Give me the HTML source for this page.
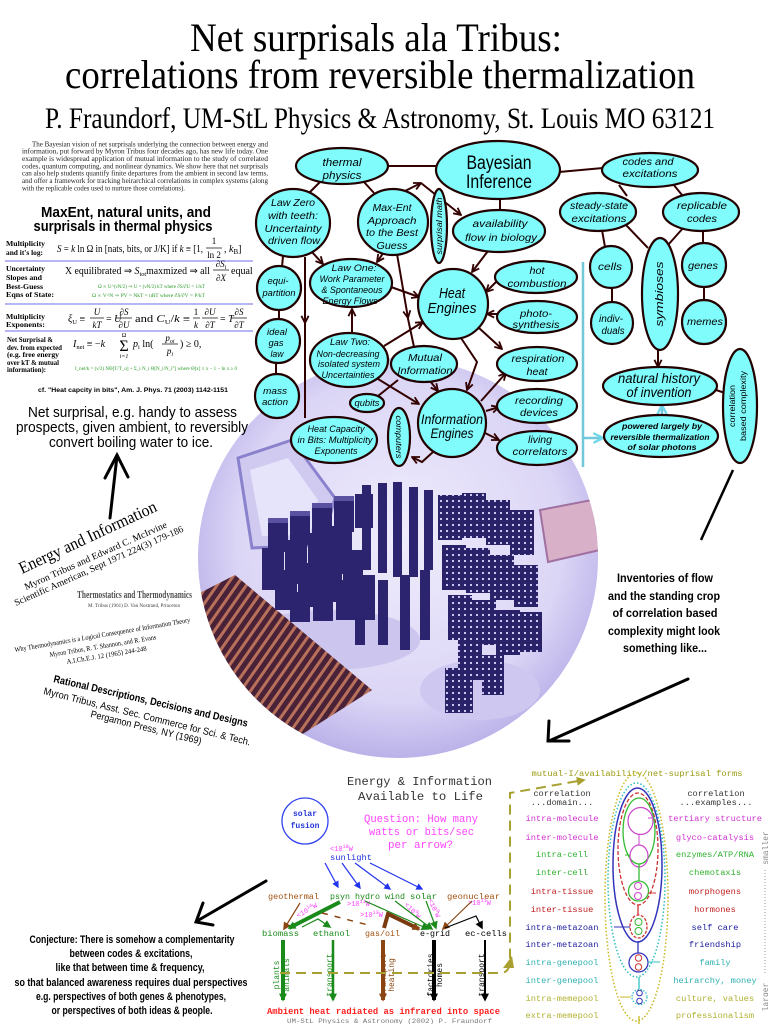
<!DOCTYPE html>
<html><head><meta charset="utf-8">
<style>
html,body{margin:0;padding:0;background:#fff;}
svg{display:block;}
.n{font-family:"Liberation Sans",sans-serif;font-style:italic;text-anchor:middle;fill:#000;}
.e{fill:#80fcfc;stroke:#200;stroke-width:2.2;}
.c{stroke:#300;stroke-width:2;fill:none;}
.m{font-family:"Liberation Mono",monospace;}
.s{font-family:"Liberation Serif",serif;}
.a{font-family:"Liberation Sans",sans-serif;}
.lb{font-family:"Liberation Serif",serif;font-weight:bold;font-size:7.5px;fill:#000;}
.fr{stroke:#000;stroke-width:0.7;}
</style></head><body>
<svg width="768" height="1024" viewBox="0 0 768 1024" xmlns="http://www.w3.org/2000/svg">
<defs>
<clipPath id="cc"><circle cx="398" cy="558" r="200"/></clipPath>
<radialGradient id="bg" cx="50%" cy="45%" r="55%"><stop offset="0" stop-color="#efecfc"/><stop offset="0.7" stop-color="#dcd6f6"/><stop offset="1" stop-color="#b4aae6"/></radialGradient>
<pattern id="dots" width="6" height="6" patternUnits="userSpaceOnUse"><rect width="6" height="6" fill="#2a2268"/><circle cx="3" cy="3" r="1.1" fill="#dcd8ff"/></pattern>
<pattern id="st" width="8" height="8" patternUnits="userSpaceOnUse" patternTransform="rotate(35)"><rect width="8" height="8" fill="#4a2238"/><rect width="3" height="8" fill="#b8705a"/></pattern>
<marker id="ar" viewBox="0 0 10 10" refX="9" refY="5" markerWidth="9" markerHeight="9" orient="auto" markerUnits="userSpaceOnUse"><path d="M1,1L9,5L1,9" fill="none" stroke="#300" stroke-width="2"/></marker>
<marker id="ac" viewBox="0 0 10 10" refX="9" refY="5" markerWidth="12" markerHeight="12" orient="auto" markerUnits="userSpaceOnUse"><path d="M1,1L9,5L1,9" fill="none" stroke="#70d8e8" stroke-width="2"/></marker>
<marker id="fg" viewBox="0 0 10 10" refX="8" refY="5" markerWidth="8" markerHeight="8" orient="auto" markerUnits="userSpaceOnUse"><path d="M0,0L10,5L0,10z" fill="#1a8a1a"/></marker>
<marker id="fb" viewBox="0 0 10 10" refX="8" refY="5" markerWidth="8" markerHeight="8" orient="auto" markerUnits="userSpaceOnUse"><path d="M0,0L10,5L0,10z" fill="#8b4513"/></marker>
<marker id="fk" viewBox="0 0 10 10" refX="8" refY="5" markerWidth="8" markerHeight="8" orient="auto" markerUnits="userSpaceOnUse"><path d="M0,0L10,5L0,10z" fill="#000"/></marker>
<marker id="fl" viewBox="0 0 10 10" refX="8" refY="5" markerWidth="7" markerHeight="7" orient="auto" markerUnits="userSpaceOnUse"><path d="M0,0L10,5L0,10z" fill="#2233ee"/></marker>
<marker id="fo" viewBox="0 0 10 10" refX="8" refY="5" markerWidth="9" markerHeight="9" orient="auto" markerUnits="userSpaceOnUse"><path d="M0,0L10,5L0,10z" fill="#a8a030"/></marker>
</defs>

<!-- Title -->
<text class="s" transform="translate(190,51) scale(1,1.1)" font-size="37" textLength="372" lengthAdjust="spacingAndGlyphs">Net surprisals ala Tribus:</text>
<text class="s" transform="translate(65,88) scale(1,1.1)" font-size="37" textLength="630" lengthAdjust="spacingAndGlyphs">correlations from reversible thermalization</text>
<text class="s" transform="translate(45,128) scale(1,1.2)" font-size="25" textLength="670" lengthAdjust="spacingAndGlyphs">P. Fraundorf, UM-StL Physics &amp; Astronomy, St. Louis MO 63121</text>

<!-- Photo circle -->
<g clip-path="url(#cc)">
<rect x="190" y="350" width="420" height="420" fill="url(#bg)"/>
<polygon points="238,458 292,440 335,498 322,545 252,548" fill="#d0caf0" stroke="#8a82cc" stroke-width="3"/>
<polygon points="250,470 288,458 318,500 310,535 262,536" fill="#e6e4fa"/>
<ellipse cx="330" cy="640" rx="90" ry="30" fill="#ccc6ee"/>
<ellipse cx="480" cy="690" rx="60" ry="30" fill="#cec8f0"/>
<polygon points="190,598 235,575 372,690 290,742 190,712" fill="url(#st)"/>
<polygon points="540,510 592,500 600,550 548,562" fill="#d8b0c8" stroke="#a070a0" stroke-width="2"/>
<g fill="#2d2470">
<rect x="268" y="522" width="20" height="30"/><rect x="290" y="515" width="20" height="30"/><rect x="312" y="507" width="20" height="30"/><rect x="334" y="500" width="20" height="32"/><rect x="355" y="494" width="18" height="34"/>
<rect x="262" y="548" width="22" height="42"/><rect x="285" y="540" width="22" height="44"/><rect x="308" y="533" width="22" height="46"/><rect x="330" y="526" width="22" height="48"/>
<rect x="275" y="570" width="22" height="40"/><rect x="298" y="563" width="22" height="44"/><rect x="320" y="556" width="22" height="46"/><rect x="343" y="550" width="20" height="50"/>
<rect x="290" y="592" width="20" height="30"/><rect x="313" y="585" width="20" height="36"/><rect x="336" y="580" width="20" height="40"/><rect x="357" y="575" width="18" height="45"/>
<rect x="362" y="485" width="9" height="85"/><rect x="378" y="483" width="9" height="90"/><rect x="393" y="482" width="9" height="95"/><rect x="409" y="487" width="9" height="90"/><rect x="424" y="490" width="9" height="80"/>
<rect x="378" y="580" width="10" height="65"/><rect x="400" y="575" width="10" height="75"/><rect x="420" y="570" width="10" height="70"/><rect x="355" y="600" width="10" height="45"/>
</g>
<g fill="#5a52a0">
<rect x="268" y="518" width="20" height="5"/><rect x="290" y="511" width="20" height="5"/><rect x="312" y="503" width="20" height="5"/><rect x="334" y="496" width="20" height="5"/>
</g>
<g fill="url(#dots)">
<rect x="438" y="495" width="24" height="45"/><rect x="462" y="493" width="24" height="45"/><rect x="486" y="500" width="24" height="45"/><rect x="510" y="510" width="24" height="45"/>
<rect x="442" y="545" width="24" height="45"/><rect x="466" y="548" width="24" height="45"/><rect x="490" y="555" width="24" height="45"/><rect x="514" y="565" width="24" height="42"/>
<rect x="448" y="595" width="24" height="45"/><rect x="472" y="600" width="24" height="45"/><rect x="496" y="610" width="24" height="45"/><rect x="520" y="612" width="22" height="40"/>
<rect x="458" y="640" width="24" height="40"/><rect x="482" y="655" width="22" height="40"/><rect x="445" y="668" width="28" height="45"/>
</g>
</g>

<!-- Abstract -->
<g class="s" font-size="7" fill="#222">
<text x="32" y="146.3" textLength="236" lengthAdjust="spacingAndGlyphs">The Bayesian vision of net surprisals underlying the connection between energy and</text>
<text x="22" y="153.7" textLength="246" lengthAdjust="spacingAndGlyphs">information, put forward by Myron Tribus four decades ago, has new life today. One</text>
<text x="22" y="161" textLength="246" lengthAdjust="spacingAndGlyphs">example is widespread application of mutual information to the study of correlated</text>
<text x="22" y="168.3" textLength="246" lengthAdjust="spacingAndGlyphs">codes, quantum computing, and nonlinear dynamics. We show here that net surprisals</text>
<text x="22" y="175.7" textLength="246" lengthAdjust="spacingAndGlyphs">can also help students quantify finite departures from the ambient in second law terms,</text>
<text x="22" y="183" textLength="246" lengthAdjust="spacingAndGlyphs">and offer a framework for tracking heirarchical correlations in complex systems (along</text>
<text x="22" y="190.3" textLength="163" lengthAdjust="spacingAndGlyphs">with the replicable codes used to nurture those correlations).</text>
</g>

<!-- MaxEnt section -->
<g class="a" font-weight="bold" font-size="14.5" text-anchor="middle">
<text x="126" y="217" textLength="170" lengthAdjust="spacingAndGlyphs">MaxEnt, natural units, and</text>
<text x="123" y="231" textLength="179" lengthAdjust="spacingAndGlyphs">surprisals in thermal physics</text>
</g>
<g class="lb">
<text x="6" y="246" textLength="39" lengthAdjust="spacingAndGlyphs">Multiplicity</text>
<text x="6" y="255" textLength="37" lengthAdjust="spacingAndGlyphs">and it's log:</text>
<text x="6" y="271" textLength="39" lengthAdjust="spacingAndGlyphs">Uncertainty</text>
<text x="6" y="280" textLength="36" lengthAdjust="spacingAndGlyphs">Slopes and</text>
<text x="6" y="289" textLength="37" lengthAdjust="spacingAndGlyphs">Best-Guess</text>
<text x="6" y="297" textLength="48" lengthAdjust="spacingAndGlyphs">Eqns of State:</text>
<text x="6" y="319" textLength="39" lengthAdjust="spacingAndGlyphs">Multiplicity</text>
<text x="6" y="327" textLength="39" lengthAdjust="spacingAndGlyphs">Exponents:</text>
</g>
<g class="lb" font-size="6.5">
<text x="7" y="342" textLength="46" lengthAdjust="spacingAndGlyphs">Net Surprisal &amp;</text>
<text x="7" y="350" textLength="55" lengthAdjust="spacingAndGlyphs">dev. from expected</text>
<text x="7" y="357" textLength="52" lengthAdjust="spacingAndGlyphs">(e.g. free energy</text>
<text x="7" y="365" textLength="52" lengthAdjust="spacingAndGlyphs">over kT &amp; mutual</text>
<text x="7" y="372" textLength="39" lengthAdjust="spacingAndGlyphs">information):</text>
</g>
<g stroke="#8a8aee" stroke-width="1.3"><line x1="5" y1="261" x2="253" y2="261"/><line x1="5" y1="304" x2="253" y2="304"/><line x1="5" y1="331" x2="253" y2="331"/></g>

<g class="s" fill="#000">
<!-- row1 -->
<text x="57" y="252" font-size="10" textLength="146" lengthAdjust="spacingAndGlyphs"><tspan font-style="italic">S</tspan> = <tspan font-style="italic">k</tspan> ln Ω in [nats, bits, or J/K] if <tspan font-style="italic">k</tspan> ≡ [1,</text>
<text x="214" y="244" font-size="9" text-anchor="middle">1</text><line class="fr" x1="206" y1="248" x2="222" y2="248"/><text x="214" y="258" font-size="9" text-anchor="middle">ln 2</text>
<text x="224" y="252" font-size="10">, <tspan font-style="italic">k</tspan><tspan font-size="7" dy="2">B</tspan><tspan dy="-2">]</tspan></text>
<!-- row2 -->
<text x="65" y="274" font-size="10" textLength="145" lengthAdjust="spacingAndGlyphs">X equilibrated ⇒ <tspan font-style="italic">S</tspan><tspan font-size="6.5" dy="2">tot</tspan><tspan dy="-2">maxmized ⇒ all</tspan></text>
<text x="221" y="267" font-size="9" text-anchor="middle" font-style="italic">∂S<tspan font-size="6" dy="2">i</tspan></text><line class="fr" x1="213" y1="270" x2="229" y2="270"/><text x="221" y="281" font-size="9" text-anchor="middle" font-style="italic">∂X</text>
<text x="231" y="274" font-size="10">equal</text>
<text x="98" y="288" font-size="5.2" fill="#2a9a2a" textLength="107" lengthAdjust="spacingAndGlyphs">Ω ∝ U^(νN/2) ⇒ U = (νN/2) kT  where  ∂S/∂U = 1/kT</text>
<text x="92" y="297" font-size="5.2" fill="#2a9a2a" textLength="113" lengthAdjust="spacingAndGlyphs">Ω ∝ V^N ⇒ PV = NkT = nRT  where  ∂S/∂V = P/kT</text>
<!-- row3 -->
<text x="68" y="322" font-size="10"><tspan font-style="italic">ξ</tspan><tspan font-size="6.5" dy="2">U</tspan><tspan dy="-2"> ≡</tspan></text>
<text x="97" y="315" font-size="9" text-anchor="middle" font-style="italic">U</text><line class="fr" x1="90" y1="318" x2="104" y2="318"/><text x="97" y="328" font-size="9" text-anchor="middle" font-style="italic">kT</text>
<text x="106" y="322" font-size="10">= <tspan font-style="italic">U</tspan></text>
<text x="124" y="315" font-size="9" text-anchor="middle" font-style="italic">∂S</text><line class="fr" x1="116" y1="318" x2="132" y2="318"/><text x="124" y="328" font-size="9" text-anchor="middle" font-style="italic">∂U</text>
<text x="135" y="322" font-size="10" textLength="55" lengthAdjust="spacingAndGlyphs">and <tspan font-style="italic">C</tspan><tspan font-size="6.5" dy="2">U</tspan><tspan dy="-2">/</tspan><tspan font-style="italic">k</tspan> ≡</text>
<text x="196" y="315" font-size="9" text-anchor="middle">1</text><line class="fr" x1="193" y1="318" x2="200" y2="318"/><text x="196" y="328" font-size="9" text-anchor="middle" font-style="italic">k</text>
<text x="210" y="315" font-size="9" text-anchor="middle" font-style="italic">∂U</text><line class="fr" x1="202" y1="318" x2="218" y2="318"/><text x="210" y="328" font-size="9" text-anchor="middle" font-style="italic">∂T</text>
<text x="220" y="322" font-size="10">= <tspan font-style="italic">T</tspan></text>
<text x="239" y="315" font-size="9" text-anchor="middle" font-style="italic">∂S</text><line class="fr" x1="231" y1="318" x2="247" y2="318"/><text x="239" y="328" font-size="9" text-anchor="middle" font-style="italic">∂T</text>
<!-- row4 -->
<text x="73" y="347" font-size="10"><tspan font-style="italic">I</tspan><tspan font-size="6.5" dy="2">net</tspan><tspan dy="-2"> ≡ −<tspan font-style="italic">k</tspan></tspan></text>
<text x="124" y="351" font-size="16" text-anchor="middle">Σ</text>
<text x="124" y="337" font-size="6" text-anchor="middle">Ω</text>
<text x="124" y="358" font-size="6" text-anchor="middle" font-style="italic">i=1</text>
<text x="133" y="347" font-size="10"><tspan font-style="italic">p</tspan><tspan font-size="6.5" dy="2">i</tspan><tspan dy="-2"> ln(</tspan></text>
<text x="170" y="341" font-size="9" text-anchor="middle" font-style="italic">p<tspan font-size="6" dy="2">oi</tspan></text><line class="fr" x1="162" y1="344" x2="178" y2="344"/><text x="170" y="354" font-size="9" text-anchor="middle" font-style="italic">p<tspan font-size="6" dy="2">i</tspan></text>
<text x="180" y="347" font-size="10">) ≥ 0,</text>
<text x="75" y="370" font-size="5.2" fill="#2a9a2a" textLength="162" lengthAdjust="spacingAndGlyphs">I_net/k = (ν/2) NΘ[T/T_o] + Σ_i N_i Θ[N_i/N_i°]  where  Θ[x] ≡ x − 1 − ln x ≥ 0</text>
</g>
<text class="a" x="38" y="392" font-size="6.6" font-weight="bold" textLength="190" lengthAdjust="spacingAndGlyphs">cf. "Heat capcity in bits", Am. J. Phys. 71 (2003) 1142-1151</text>
<g class="a" font-size="14.5" fill="#000">
<text x="28" y="417" textLength="209" lengthAdjust="spacingAndGlyphs">Net surprisal, e.g. handy to assess</text>
<text x="16" y="432" textLength="232" lengthAdjust="spacingAndGlyphs">prospects, given ambient, to reversibly</text>
<text x="49" y="447" textLength="164" lengthAdjust="spacingAndGlyphs">convert boiling water to ice.</text>
</g>
<!-- up arrow -->
<g stroke="#000" stroke-width="3" fill="none" stroke-linecap="round"><line x1="117" y1="456" x2="110" y2="518"/><polyline points="105,478 117,455 128,477"/></g>

<!-- References -->
<g class="s" fill="#000">
<text transform="translate(22,574) rotate(-25)" font-size="17" textLength="150" lengthAdjust="spacingAndGlyphs">Energy and Information</text>
<text transform="translate(26,590) rotate(-24)" font-size="9.5" textLength="155" lengthAdjust="spacingAndGlyphs">Myron Tribus and Edward C. McIrvine</text>
<text transform="translate(16,606) rotate(-24)" font-size="9.5" textLength="184" lengthAdjust="spacingAndGlyphs">Scientific American, Sept 1971 224(3) 179-186</text>
<text x="77" y="598" font-size="10" font-weight="bold" fill="#505050" textLength="115" lengthAdjust="spacingAndGlyphs">Thermostatics and Thermodynamics</text>
<text x="88" y="607" font-size="5" fill="#404040" textLength="92" lengthAdjust="spacingAndGlyphs">M. Tribus (1961) D. Van Nostrand, Princeton</text>
<text transform="translate(15,652) rotate(-9.7)" font-size="7" textLength="178" lengthAdjust="spacingAndGlyphs">Why Thermodynamics is a Logical Consequence of Information Theory</text>
<text transform="translate(50,657) rotate(-9.5)" font-size="7" textLength="108" lengthAdjust="spacingAndGlyphs">Myron Tribus, R. T. Shannon, and R. Evans</text>
<text transform="translate(67,664) rotate(-9.5)" font-size="7" textLength="81" lengthAdjust="spacingAndGlyphs">A.I.Ch.E.J. 12 (1965) 244-248</text>
</g>
<g class="a" fill="#000">
<text transform="translate(53,682) rotate(13)" font-size="10.5" font-weight="bold" textLength="199" lengthAdjust="spacingAndGlyphs">Rational Descriptions, Decisions and Designs</text>
<text transform="translate(43,694) rotate(14)" font-size="10" textLength="213" lengthAdjust="spacingAndGlyphs">Myron Tribus, Asst. Sec. Commerce for Sci. &amp; Tech.</text>
<text transform="translate(90,717) rotate(14)" font-size="10" textLength="114" lengthAdjust="spacingAndGlyphs">Pergamon Press, NY (1969)</text>
</g>

<!-- Top-right diagram connectors -->
<g class="c">
<line x1="388" y1="166" x2="437" y2="166"/>
<line x1="320" y1="182" x2="309" y2="193"/>
<line x1="364" y1="182" x2="374" y2="193"/>
<line x1="500" y1="198" x2="500" y2="211"/>
<line x1="559" y1="172" x2="603" y2="168"/>
<line x1="405" y1="191" x2="421" y2="183" marker-end="url(#ar)"/>
<line x1="421" y1="183" x2="461" y2="215" marker-end="url(#ar)"/>
<line x1="488" y1="251" x2="472" y2="272" marker-end="url(#ar)"/>
<line x1="283" y1="256" x2="282" y2="267"/>
<line x1="311" y1="251" x2="323" y2="264" marker-end="url(#ar)"/>
<line x1="305" y1="257" x2="305" y2="323" marker-end="url(#ar)"/>
<line x1="305" y1="320" x2="305" y2="418"/>
<line x1="384" y1="252" x2="377" y2="262" marker-end="url(#ar)"/>
<line x1="397" y1="254" x2="408" y2="318" marker-end="url(#ar)"/>
<line x1="407" y1="314" x2="414" y2="347"/>
<line x1="391" y1="287" x2="419" y2="297" marker-end="url(#ar)"/>
<line x1="279" y1="309" x2="279" y2="320"/>
<line x1="276" y1="362" x2="276" y2="375"/>
<line x1="352" y1="334" x2="352" y2="309" marker-end="url(#ar)"/>
<line x1="384" y1="346" x2="423" y2="322" marker-end="url(#ar)"/>
<line x1="378" y1="379" x2="419" y2="404" marker-end="url(#ar)"/>
<line x1="430" y1="381" x2="438" y2="391" marker-end="url(#ar)"/>
<line x1="378" y1="396" x2="398" y2="380"/>
<polyline points="461,338 477,362 467,390" marker-end="url(#ar)"/>
<line x1="479" y1="328" x2="502" y2="349" marker-end="url(#ar)"/>
<line x1="497" y1="281" x2="486" y2="292" marker-end="url(#ar)"/>
<line x1="498" y1="314" x2="487" y2="314" marker-end="url(#ar)"/>
<line x1="481" y1="401" x2="506" y2="373" marker-end="url(#ar)"/>
<line x1="486" y1="411" x2="499" y2="407" marker-end="url(#ar)"/>
<line x1="485" y1="433" x2="499" y2="440" marker-end="url(#ar)"/>
<polyline points="433,452 422,462 412,457" marker-end="url(#ar)"/>
<line x1="627" y1="196" x2="619" y2="185"/>
<line x1="673" y1="184" x2="682" y2="195"/>
<line x1="602" y1="230" x2="605" y2="247"/>
<line x1="626" y1="225" x2="648" y2="248"/>
<line x1="684" y1="227" x2="668" y2="245"/>
<line x1="703" y1="230" x2="703" y2="244"/>
<line x1="612" y1="288" x2="612" y2="302"/>
<line x1="704" y1="286" x2="704" y2="301"/>
<line x1="658" y1="349" x2="658" y2="367" marker-end="url(#ar)"/>
<line x1="716" y1="390" x2="725" y2="393"/>
</g>
<line x1="583" y1="262" x2="583" y2="467" stroke="#70c8d8" stroke-width="2.5"/>
<line x1="583" y1="438" x2="603" y2="438" stroke="#70c8d8" stroke-width="2.5" marker-end="url(#ac)"/>
<line x1="662" y1="415" x2="662" y2="405" stroke="#70c8d8" stroke-width="2.5" marker-end="url(#ac)"/>
<line x1="733" y1="470" x2="701" y2="540" stroke="#000" stroke-width="2.5"/>

<!-- nodes -->
<g class="e">
<ellipse cx="342" cy="166" rx="46" ry="18"/>
<ellipse cx="498" cy="170" rx="62" ry="29"/>
<ellipse cx="293" cy="223" rx="37" ry="34"/>
<ellipse cx="393" cy="222" rx="35" ry="33"/>
<ellipse cx="439" cy="226" rx="8" ry="37"/>
<ellipse cx="499" cy="231" rx="46" ry="21"/>
<circle cx="279" cy="288" r="22"/>
<ellipse cx="351" cy="283" rx="41" ry="24"/>
<circle cx="453" cy="304" r="35"/>
<ellipse cx="536" cy="277" rx="41" ry="16"/>
<ellipse cx="537" cy="317" rx="40" ry="16"/>
<ellipse cx="537" cy="364" rx="40" ry="17"/>
<ellipse cx="537" cy="406" rx="40" ry="17"/>
<ellipse cx="537" cy="448" rx="40" ry="17"/>
<ellipse cx="424" cy="364" rx="33" ry="18"/>
<ellipse cx="349" cy="360" rx="39" ry="27"/>
<circle cx="452" cy="423" r="34"/>
<ellipse cx="367" cy="403" rx="17" ry="9"/>
<ellipse cx="399" cy="437" rx="11" ry="29"/>
<ellipse cx="334" cy="440" rx="43" ry="23"/>
<circle cx="278" cy="341" r="22"/>
<circle cx="277" cy="396" r="22"/>
<ellipse cx="650" cy="170" rx="48" ry="17"/>
<ellipse cx="598" cy="212" rx="38" ry="19"/>
<ellipse cx="701" cy="212" rx="38" ry="19"/>
<circle cx="611" cy="267" r="21"/>
<circle cx="612" cy="323" r="21"/>
<ellipse cx="660" cy="294" rx="18" ry="56"/>
<circle cx="704" cy="265" r="22"/>
<circle cx="704" cy="322" r="22"/>
<ellipse cx="660" cy="386" rx="57" ry="19"/>
<ellipse cx="661" cy="436" rx="57" ry="21"/>
<ellipse cx="740" cy="406" rx="17" ry="57"/>
</g>

<!-- node labels -->
<g class="n" font-size="10.5">
<text x="342" y="166" textLength="39" lengthAdjust="spacingAndGlyphs" font-size="11">thermal</text>
<text x="342" y="179" textLength="39" lengthAdjust="spacingAndGlyphs" font-size="11">physics</text>
<text x="499" y="169" textLength="65" lengthAdjust="spacingAndGlyphs" font-size="19" font-style="normal">Bayesian</text>
<text x="499" y="188" textLength="66" lengthAdjust="spacingAndGlyphs" font-size="19" font-style="normal">Inference</text>
<text x="293" y="206" textLength="44" lengthAdjust="spacingAndGlyphs">Law Zero</text>
<text x="293" y="219" textLength="50" lengthAdjust="spacingAndGlyphs">with teeth:</text>
<text x="293" y="232" textLength="57" lengthAdjust="spacingAndGlyphs">Uncertainty</text>
<text x="294" y="244" textLength="52" lengthAdjust="spacingAndGlyphs">driven flow</text>
<text x="392" y="211" textLength="39" lengthAdjust="spacingAndGlyphs">Max-Ent</text>
<text x="392" y="224" textLength="49" lengthAdjust="spacingAndGlyphs">Approach</text>
<text x="392" y="236" textLength="52" lengthAdjust="spacingAndGlyphs">to the Best</text>
<text x="392" y="249" textLength="31" lengthAdjust="spacingAndGlyphs">Guess</text>
<text transform="translate(442,226) rotate(-90)" font-size="8" textLength="57" lengthAdjust="spacingAndGlyphs">surprisal math</text>
<text x="500" y="227" textLength="55" lengthAdjust="spacingAndGlyphs">availability</text>
<text x="501" y="241" textLength="72" lengthAdjust="spacingAndGlyphs">flow in biology</text>
<text x="278" y="284" font-size="9" textLength="21" lengthAdjust="spacingAndGlyphs">equi-</text>
<text x="279" y="296" font-size="9" textLength="33" lengthAdjust="spacingAndGlyphs">partition</text>
<text x="354" y="271" font-size="9.5" textLength="45" lengthAdjust="spacingAndGlyphs">Law One:</text>
<text x="352" y="282" font-size="9.5" textLength="65" lengthAdjust="spacingAndGlyphs">Work Parameter</text>
<text x="352" y="293" font-size="9.5" textLength="61" lengthAdjust="spacingAndGlyphs">&amp; Spontaneous</text>
<text x="350" y="304" font-size="9.5" textLength="55" lengthAdjust="spacingAndGlyphs">Energy Flows</text>
<text x="452" y="298" font-size="15" textLength="26" lengthAdjust="spacingAndGlyphs">Heat</text>
<text x="452" y="313" font-size="15" textLength="49" lengthAdjust="spacingAndGlyphs">Engines</text>
<text x="537" y="274" font-size="10" textLength="15" lengthAdjust="spacingAndGlyphs">hot</text>
<text x="537" y="287" font-size="10" textLength="59" lengthAdjust="spacingAndGlyphs">combustion</text>
<text x="536" y="317" font-size="10" textLength="32" lengthAdjust="spacingAndGlyphs">photo-</text>
<text x="536" y="328" font-size="10" textLength="47" lengthAdjust="spacingAndGlyphs">synthesis</text>
<text x="538" y="362" font-size="10" textLength="53" lengthAdjust="spacingAndGlyphs">respiration</text>
<text x="537" y="375" font-size="10" textLength="21" lengthAdjust="spacingAndGlyphs">heat</text>
<text x="539" y="404" font-size="10" textLength="48" lengthAdjust="spacingAndGlyphs">recording</text>
<text x="539" y="416" font-size="10" textLength="38" lengthAdjust="spacingAndGlyphs">devices</text>
<text x="540" y="443" font-size="10" textLength="24" lengthAdjust="spacingAndGlyphs">living</text>
<text x="540" y="455" font-size="10" textLength="55" lengthAdjust="spacingAndGlyphs">correlators</text>
<text x="277" y="335" font-size="9" textLength="20" lengthAdjust="spacingAndGlyphs">ideal</text>
<text x="276" y="346" font-size="9" textLength="15" lengthAdjust="spacingAndGlyphs">gas</text>
<text x="277" y="357" font-size="9" textLength="13" lengthAdjust="spacingAndGlyphs">law</text>
<text x="275" y="394" font-size="9" textLength="24" lengthAdjust="spacingAndGlyphs">mass</text>
<text x="275" y="405" font-size="9" textLength="26" lengthAdjust="spacingAndGlyphs">action</text>
<text x="350" y="345" font-size="9.5" textLength="40" lengthAdjust="spacingAndGlyphs">Law Two:</text>
<text x="348" y="357" font-size="9.5" textLength="63" lengthAdjust="spacingAndGlyphs">Non-decreasing</text>
<text x="349" y="367" font-size="9.5" textLength="62" lengthAdjust="spacingAndGlyphs">isolated system</text>
<text x="348" y="378" font-size="9.5" textLength="53" lengthAdjust="spacingAndGlyphs">Uncertainties</text>
<text x="425" y="361" textLength="34" lengthAdjust="spacingAndGlyphs">Mutual</text>
<text x="425" y="374" textLength="55" lengthAdjust="spacingAndGlyphs">Information</text>
<text x="367" y="406" font-size="9" textLength="25" lengthAdjust="spacingAndGlyphs">qubits</text>
<text x="452" y="424" font-size="14" textLength="62" lengthAdjust="spacingAndGlyphs">Information</text>
<text x="452" y="438" font-size="14" textLength="43" lengthAdjust="spacingAndGlyphs">Engines</text>
<text x="336" y="432" font-size="9.5" textLength="57" lengthAdjust="spacingAndGlyphs">Heat Capacity</text>
<text x="335" y="443" font-size="9.5" textLength="75" lengthAdjust="spacingAndGlyphs">in Bits: Multiplicity</text>
<text x="336" y="454" font-size="9.5" textLength="43" lengthAdjust="spacingAndGlyphs">Exponents</text>
<text transform="translate(396,437) rotate(90)" font-size="8" textLength="43" lengthAdjust="spacingAndGlyphs">computers</text>
<text x="648" y="165" textLength="51" lengthAdjust="spacingAndGlyphs">codes and</text>
<text x="650" y="177" textLength="55" lengthAdjust="spacingAndGlyphs">excitations</text>
<text x="599" y="209" font-size="10" textLength="58" lengthAdjust="spacingAndGlyphs">steady-state</text>
<text x="599" y="222" font-size="10" textLength="55" lengthAdjust="spacingAndGlyphs">excitations</text>
<text x="702" y="209" font-size="10" textLength="50" lengthAdjust="spacingAndGlyphs">replicable</text>
<text x="702" y="222" font-size="10" textLength="30" lengthAdjust="spacingAndGlyphs">codes</text>
<text x="610" y="270" font-size="10" textLength="24" lengthAdjust="spacingAndGlyphs">cells</text>
<text x="611" y="322" font-size="10" textLength="24" lengthAdjust="spacingAndGlyphs">indiv-</text>
<text x="613" y="334" font-size="10" textLength="23" lengthAdjust="spacingAndGlyphs">duals</text>
<text x="703" y="269" font-size="10" textLength="30" lengthAdjust="spacingAndGlyphs">genes</text>
<text x="705" y="325" font-size="10" textLength="36" lengthAdjust="spacingAndGlyphs">memes</text>
<text transform="translate(663,294) rotate(-90)" font-size="11" textLength="65" lengthAdjust="spacingAndGlyphs">symbioses</text>
<text x="659" y="383" font-size="14" textLength="82" lengthAdjust="spacingAndGlyphs">natural history</text>
<text x="659" y="397" font-size="14" textLength="65" lengthAdjust="spacingAndGlyphs">of invention</text>
<text x="662" y="429" font-size="8.5" font-weight="bold" textLength="80" lengthAdjust="spacingAndGlyphs">powered largely by</text>
<text x="660" y="440" font-size="8.5" font-weight="bold" textLength="99" lengthAdjust="spacingAndGlyphs">reversible thermalization</text>
<text x="662" y="450" font-size="8.5" font-weight="bold" textLength="69" lengthAdjust="spacingAndGlyphs">of solar photons</text>
<text transform="translate(735,406) rotate(-90)" font-size="8.5" font-style="normal" textLength="42" lengthAdjust="spacingAndGlyphs">correlation</text>
<text transform="translate(746,406) rotate(-90)" font-size="8.5" font-style="normal" textLength="70" lengthAdjust="spacingAndGlyphs">based complexity</text>
</g>

<!-- Inventories text -->
<g class="a" font-weight="bold" font-size="11.5" text-anchor="middle">
<text x="665" y="582" textLength="96" lengthAdjust="spacingAndGlyphs">Inventories of flow</text>
<text x="664" y="600" textLength="112" lengthAdjust="spacingAndGlyphs">and the standing crop</text>
<text x="665" y="617" textLength="105" lengthAdjust="spacingAndGlyphs">of correlation based</text>
<text x="664" y="635" textLength="112" lengthAdjust="spacingAndGlyphs">complexity might look</text>
<text x="665" y="652" textLength="84" lengthAdjust="spacingAndGlyphs">something like...</text>
</g>
<g stroke="#000" stroke-width="3" fill="none" stroke-linecap="round">
<line x1="688" y1="679" x2="549" y2="741"/><polyline points="549,721 548,741 569,741"/>
<line x1="266" y1="881" x2="197" y2="921"/><polyline points="203,903 196,922 213,925"/>
</g>

<!-- Conjecture -->
<g class="a" font-weight="bold" font-size="11" text-anchor="middle">
<text x="132" y="943" textLength="205" lengthAdjust="spacingAndGlyphs">Conjecture: There is somehow a complementarity</text>
<text x="131" y="957" textLength="123" lengthAdjust="spacingAndGlyphs">between codes &amp; excitations,</text>
<text x="130" y="971" textLength="149" lengthAdjust="spacingAndGlyphs">like that between time &amp; frequency,</text>
<text x="131" y="986" textLength="233" lengthAdjust="spacingAndGlyphs">so that balanced awareness requires dual perspectives</text>
<text x="131" y="1000" textLength="190" lengthAdjust="spacingAndGlyphs">e.g. perspectives of both genes &amp; phenotypes,</text>
<text x="132" y="1014" textLength="161" lengthAdjust="spacingAndGlyphs">or perspectives of both ideas &amp; people.</text>
</g>

<!-- Bottom center diagram -->
<g class="m">
<text x="347" y="785" font-size="12" fill="#333" textLength="145" lengthAdjust="spacingAndGlyphs">Energy &amp; Information</text>
<text x="358" y="800" font-size="12" fill="#333" textLength="125" lengthAdjust="spacingAndGlyphs">Available to Life</text>
<circle cx="305" cy="821" r="23" fill="none" stroke="#3344ee" stroke-width="1.3"/>
<text x="305" y="816" font-size="8" fill="#2233dd" font-weight="bold" text-anchor="middle">solar</text>
<text x="305" y="828" font-size="8" fill="#2233dd" font-weight="bold" text-anchor="middle">fusion</text>
<g fill="#ff44ff" font-size="11">
<text x="364" y="822" textLength="114" lengthAdjust="spacingAndGlyphs">Question: How many</text>
<text x="369" y="835" textLength="105" lengthAdjust="spacingAndGlyphs">watts or bits/sec</text>
<text x="388" y="848" textLength="65" lengthAdjust="spacingAndGlyphs">per arrow?</text>
</g>
<text x="330" y="851" font-size="7" fill="#ff44ff">&lt;10<tspan font-size="5" dy="-3">18</tspan><tspan dy="3">W</tspan></text>
<text x="330" y="860" font-size="8.5" fill="#2233dd" textLength="42" lengthAdjust="spacingAndGlyphs">sunlight</text>
<g stroke="#2233ee" stroke-width="1.2" fill="none">
<line x1="325" y1="863" x2="338" y2="887" marker-end="url(#fl)"/>
<line x1="342" y1="863" x2="360" y2="888" marker-end="url(#fl)"/>
<line x1="355" y1="863" x2="390" y2="889" marker-end="url(#fl)"/>
<line x1="370" y1="863" x2="422" y2="889" marker-end="url(#fl)"/>
</g>
<g font-size="8.5">
<text x="268" y="899" fill="#a05010" textLength="51" lengthAdjust="spacingAndGlyphs">geothermal</text>
<text x="330" y="899" fill="#1a8a1a" textLength="20" lengthAdjust="spacingAndGlyphs">psyn</text>
<text x="355" y="899" fill="#1a8a1a" textLength="25" lengthAdjust="spacingAndGlyphs">hydro</text>
<text x="385" y="899" fill="#1a8a1a" textLength="20" lengthAdjust="spacingAndGlyphs">wind</text>
<text x="410" y="899" fill="#1a8a1a" textLength="27" lengthAdjust="spacingAndGlyphs">solar</text>
<text x="447" y="899" fill="#a05010" textLength="53" lengthAdjust="spacingAndGlyphs">geonuclear</text>
<text x="262" y="936" fill="#1a8a1a" textLength="37" lengthAdjust="spacingAndGlyphs">biomass</text>
<text x="313" y="936" fill="#1a8a1a" textLength="37" lengthAdjust="spacingAndGlyphs">ethanol</text>
<text x="365" y="936" fill="#a05010" textLength="35" lengthAdjust="spacingAndGlyphs">gas/oil</text>
<text x="420" y="936" fill="#000" textLength="30" lengthAdjust="spacingAndGlyphs">e-grid</text>
<text x="465" y="936" fill="#000" textLength="42" lengthAdjust="spacingAndGlyphs">ec-cells</text>
</g>
<g fill="#ff44ff" font-size="7">
<text x="347" y="906">&gt;10<tspan font-size="5" dy="-3">11</tspan><tspan dy="3">W</tspan></text>
<text x="360" y="917">&gt;10<tspan font-size="5" dy="-3">13</tspan><tspan dy="3">W</tspan></text>
<text x="468" y="905">&gt;10<tspan font-size="5" dy="-3">11</tspan><tspan dy="3">W</tspan></text>
<text transform="translate(298,918) rotate(-30)">&lt;10<tspan font-size="5" dy="-3">14</tspan><tspan dy="3">W</tspan></text>
<text transform="translate(404,905) rotate(45)">&lt;10<tspan font-size="5" dy="-3">9</tspan><tspan dy="3">W</tspan></text>
<text transform="translate(428,900) rotate(65)">&lt;10<tspan font-size="5" dy="-3">9</tspan><tspan dy="3">W</tspan></text>
</g>
<g fill="none">
<line x1="300" y1="903" x2="284" y2="929" stroke="#8b4513" stroke-width="1.2" marker-end="url(#fb)"/>
<line x1="340" y1="902" x2="289" y2="928" stroke="#1a8a1a" stroke-width="4" marker-end="url(#fg)"/>
<polyline points="302,927 318,919 330,927" stroke="#1a8a1a" stroke-width="1.2" marker-end="url(#fg)"/>
<polyline points="322,913 372,926" stroke="#8b4513" stroke-width="1.5" stroke-dasharray="6,7"/>
<line x1="365" y1="901" x2="428" y2="929" stroke="#1a8a1a" stroke-width="1.2" marker-end="url(#fg)"/>
<line x1="395" y1="901" x2="432" y2="929" stroke="#1a8a1a" stroke-width="1.2" marker-end="url(#fg)"/>
<line x1="426" y1="901" x2="436" y2="928" stroke="#1a8a1a" stroke-width="1.2" marker-end="url(#fg)"/>
<line x1="472" y1="901" x2="443" y2="929" stroke="#8b4513" stroke-width="1.2" marker-end="url(#fb)"/>
<polyline points="384,928 388,914 419,929" stroke="#7a3a10" stroke-width="4" marker-end="url(#fb)"/>
<polyline points="445,928 476,916 482,928" stroke="#000" stroke-width="1.2" marker-end="url(#fk)"/>
<line x1="283" y1="940" x2="283" y2="1000" stroke="#1a8a1a" stroke-width="4" marker-end="url(#fg)"/>
<line x1="333" y1="940" x2="333" y2="1000" stroke="#1a8a1a" stroke-width="2.5" marker-end="url(#fg)"/>
<line x1="383" y1="940" x2="383" y2="1000" stroke="#8b4513" stroke-width="4" marker-end="url(#fb)"/>
<line x1="434" y1="940" x2="434" y2="1000" stroke="#000" stroke-width="4" marker-end="url(#fk)"/>
<line x1="485" y1="940" x2="485" y2="1000" stroke="#000" stroke-width="2" marker-end="url(#fk)"/>
</g>
<g font-size="8" text-anchor="middle">
<text transform="translate(279,975) rotate(-90)" fill="#1a8a1a">plants</text>
<text transform="translate(289,975) rotate(-90)" fill="#1a8a1a">animals</text>
<text transform="translate(332,975) rotate(-90)" fill="#1a8a1a">transport</text>
<text transform="translate(386,975) rotate(-90)" fill="#8b4513">transport</text>
<text transform="translate(394,975) rotate(-90)" fill="#8b4513">heating</text>
<text transform="translate(433,975) rotate(-90)" fill="#000">factories</text>
<text transform="translate(442,975) rotate(-90)" fill="#000">homes</text>
<text transform="translate(484,975) rotate(-90)" fill="#000">transport</text>
</g>
<path d="M280,973 L500,973 Q510,973 510,960 L510,793 L584,780" fill="none" stroke="#a8a030" stroke-width="2" stroke-dasharray="10,6" marker-end="url(#fo)"/>
<polygon points="503,968 512,956 514,968" fill="#a8a030"/>
<text x="267" y="1014" font-size="9.5" font-weight="bold" fill="#ff2020" textLength="233" lengthAdjust="spacingAndGlyphs">Ambient heat radiated as infrared into space</text>
<text x="287" y="1023" font-size="6.5" fill="#777" textLength="205" lengthAdjust="spacingAndGlyphs">UM-StL Physics &amp; Astronomy (2002) P. Fraundorf</text>
</g>

<!-- Bottom right correlation inventory -->
<g class="m" font-size="8.7" text-anchor="middle">
<text x="637" y="776" fill="#9a9a10" textLength="211" lengthAdjust="spacingAndGlyphs">mutual-I/availability/net-suprisal forms</text>
<text x="562" y="796" fill="#333">correlation</text>
<text x="562" y="805" fill="#333">...domain...</text>
<text x="716" y="796" fill="#333">correlation</text>
<text x="716" y="805" fill="#333">...examples...</text>
<text x="562" y="821" fill="#d030d0">intra-molecule</text>
<text x="562" y="840" fill="#d030d0">inter-molecule</text>
<text x="562" y="857" fill="#30b030">intra-cell</text>
<text x="562" y="875" fill="#30b030">inter-cell</text>
<text x="562" y="894" fill="#c02020">intra-tissue</text>
<text x="562" y="912" fill="#c02020">inter-tissue</text>
<text x="562" y="930" fill="#2020a0">intra-metazoan</text>
<text x="562" y="947" fill="#2020a0">inter-metazoan</text>
<text x="562" y="965" fill="#30b0b0">intra-genepool</text>
<text x="562" y="983" fill="#30b0b0">inter-genepool</text>
<text x="562" y="1001" fill="#b0b030">intra-memepool</text>
<text x="562" y="1018" fill="#b0b030">extra-memepool</text>
<text x="715" y="821" fill="#d030d0">tertiary structure</text>
<text x="715" y="840" fill="#d030d0">glyco-catalysis</text>
<text x="715" y="857" fill="#30b030">enzymes/ATP/RNA</text>
<text x="715" y="875" fill="#30b030">chemotaxis</text>
<text x="715" y="894" fill="#c02020">morphogens</text>
<text x="715" y="912" fill="#c02020">hormones</text>
<text x="715" y="930" fill="#2020a0">self care</text>
<text x="715" y="947" fill="#2020a0">friendship</text>
<text x="715" y="965" fill="#30b0b0">family</text>
<text x="715" y="983" fill="#30b0b0">heirarchy, money</text>
<text x="715" y="1001" fill="#b0b030">culture, values</text>
<text x="715" y="1018" fill="#b0b030">professionalism</text>
<text transform="translate(768,848) rotate(-90)" fill="#888" font-size="8">smaller</text>
<text transform="translate(768,997) rotate(-90)" fill="#888" font-size="8">larger</text>
</g>
<line x1="765" y1="870" x2="765" y2="975" stroke="#999" stroke-width="1" stroke-dasharray="1,2"/>
<g fill="none">
<ellipse cx="636.5" cy="897" rx="31.5" ry="124" stroke="#c8b820" stroke-width="1.5" stroke-dasharray="1.5,2"/>
<ellipse cx="636.5" cy="880" rx="28.5" ry="97" stroke="#30c0c0" stroke-width="1.5" stroke-dasharray="1.5,2"/>
<ellipse cx="637.5" cy="865" rx="24.5" ry="77" stroke="#3333bb" stroke-width="1.5"/>
<ellipse cx="638" cy="849" rx="20" ry="56" stroke="#cc3333" stroke-width="1.3" stroke-dasharray="4,2"/>
<ellipse cx="639" cy="831" rx="16" ry="33" stroke="#33bb33" stroke-width="1.3"/>
<ellipse cx="640.5" cy="821" rx="12.5" ry="13.5" stroke="#cc44cc" stroke-width="1.2"/>
<ellipse cx="639" cy="856" rx="9" ry="11" stroke="#cc44cc" stroke-width="1.2"/>
<line x1="639" y1="834" x2="639" y2="845" stroke="#cc44cc"/>
<line x1="648" y1="818" x2="653" y2="818" stroke="#cc44cc"/>
<line x1="625" y1="855" x2="630" y2="855" stroke="#33bb33"/>
<line x1="639" y1="864" x2="639" y2="881" stroke="#33bb33" stroke-width="1.3"/>
<circle cx="638.5" cy="891" r="10" stroke="#33bb33" stroke-width="1.3"/>
<circle cx="638" cy="886" r="3.5" stroke="#cc44cc"/>
<circle cx="638" cy="896" r="3.5" stroke="#cc44cc"/>
<line x1="648" y1="893" x2="656" y2="893" stroke="#cc3333"/>
<line x1="638" y1="905" x2="638" y2="915" stroke="#cc3333" stroke-width="1.3"/>
<ellipse cx="638.5" cy="926.5" rx="8.5" ry="11.5" stroke="#cc3333" stroke-width="1.3" stroke-dasharray="3,1.5"/>
<circle cx="638.5" cy="922" r="3.5" stroke="#33bb33"/>
<circle cx="638.5" cy="931" r="3.5" stroke="#33bb33"/>
<line x1="614" y1="927" x2="630" y2="927" stroke="#3333bb"/>
<line x1="638" y1="942" x2="638" y2="953" stroke="#3333bb" stroke-width="1.3"/>
<circle cx="638.5" cy="962.5" r="9.5" stroke="#3333bb" stroke-width="1.3"/>
<circle cx="638.5" cy="958" r="3.2" stroke="#cc3333"/>
<circle cx="638.5" cy="967" r="3.2" stroke="#cc3333"/>
<line x1="648" y1="962" x2="660" y2="962" stroke="#30c0c0"/>
<line x1="639" y1="977" x2="639" y2="989" stroke="#30c0c0" stroke-width="1.3"/>
<circle cx="639.5" cy="997" r="7.5" stroke="#30c0c0" stroke-width="1.3" stroke-dasharray="1.5,1.5"/>
<circle cx="639.5" cy="993" r="2.8" stroke="#3333bb"/>
<circle cx="639.5" cy="1001" r="2.8" stroke="#3333bb"/>
<line x1="620" y1="997" x2="631" y2="997" stroke="#c8b820"/>
<line x1="639" y1="1016" x2="639" y2="1024" stroke="#c8b820" stroke-width="1.3"/>
</g>
</svg>
</body></html>
